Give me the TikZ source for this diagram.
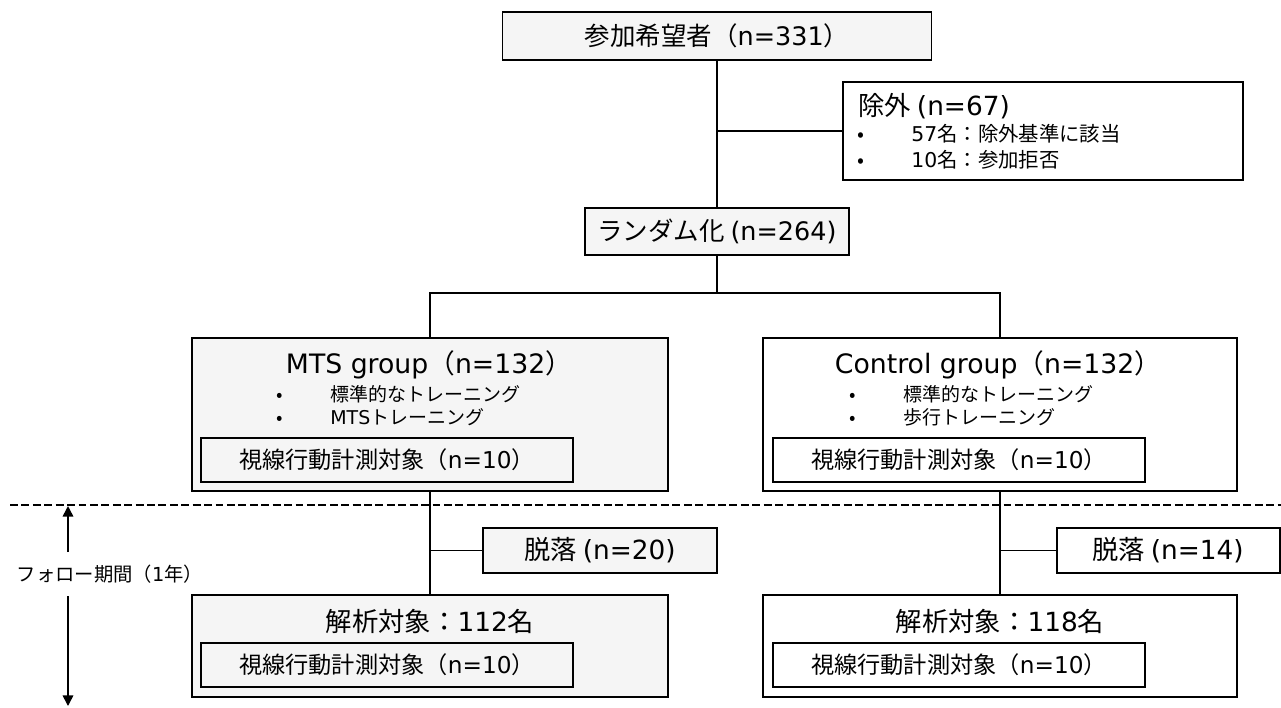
\documentclass[tikz,border=0pt]{standalone}
\usepackage{fontspec}
\setmainfont{Noto Sans CJK JP}
\newfontfamily\lat{DejaVu Sans}
\newcommand\lt[1]{{\lat #1}}
\usetikzlibrary{arrows.meta}
\begin{document}
\begin{tikzpicture}[x=0.02cm,y=-0.02cm,
  box/.style={draw=black, line width=1.1pt, inner sep=0pt, align=center},
  shaded/.style={fill=black!4},
  conn/.style={line width=0.9pt},
  txt/.style={inner sep=0pt},
  fbig/.style={font=\fontsize{14.5}{17}\selectfont},
  fhead/.style={font=\fontsize{15.2}{18}\selectfont},
  fdrop/.style={font=\fontsize{15}{18}\selectfont},
  fmid/.style={font=\fontsize{13.2}{16}\selectfont},
  fsmall/.style={font=\fontsize{10.8}{13}\selectfont},
  fex/.style={font=\fontsize{11.6}{14}\selectfont},
  tip/.style={-{Triangle[length=6pt,width=6pt]}, line width=0.9pt}
]
\useasboundingbox[fill=white] (0,0) rectangle (1281,707);

% top part
\node[box,shaded,fbig,minimum width=429*0.02cm,minimum height=48*0.02cm] (top) at (717,36) {参加希望者（\lt{n=331}）};
\node[box,minimum width=400*0.02cm,minimum height=98*0.02cm] (excl) at (1043,131) {};
\node[txt,fdrop,anchor=west] (exh) at (858,106) {除外 \lt{(n=67)}};
\node[txt,fex,anchor=west] (exb1) at (857,134) {\makebox[1.08cm][l]{•}\lt{57}名：除外基準に該当};
\node[txt,fex,anchor=west] (exb2) at (857,160) {\makebox[1.08cm][l]{•}\lt{10}名：参加拒否};
\node[box,shaded,fbig,minimum width=264*0.02cm,minimum height=47*0.02cm] (rand) at (717,231.5) {ランダム化 \lt{(n=264)}};

\draw[conn] (top.south) -- (rand.north);
\draw[conn] (top.south |- excl.west) -- (excl.west);

% groups
\node[box,shaded,minimum width=476*0.02cm,minimum height=153*0.02cm] (mts) at (430,414.5) {};
\node[txt,fhead] (mtsh) at (429,365) {\lt{MTS group}（\lt{n=132}）};
\node[txt,fsmall,anchor=west] (mtsb1) at (276,394) {\makebox[1.08cm][l]{•}標準的なトレーニング};
\node[txt,fsmall,anchor=west] (mtsb2) at (276,417) {\makebox[1.08cm][l]{•}\lt{MTS}トレーニング};
\node[box,fmid,minimum width=372*0.02cm,minimum height=44*0.02cm] (mtsin) at (387,460) {視線行動計測対象（\lt{n=10}）};

\node[box,minimum width=474*0.02cm,minimum height=153*0.02cm] (ctl) at (1000,414.5) {};
\node[txt,fhead] (ctlh) at (998,365) {\lt{Control group}（\lt{n=132}）};
\node[txt,fsmall,anchor=west] (ctlb1) at (849,394) {\makebox[1.08cm][l]{•}標準的なトレーニング};
\node[txt,fsmall,anchor=west] (ctlb2) at (849,417) {\makebox[1.08cm][l]{•}歩行トレーニング};
\node[box,fmid,minimum width=372*0.02cm,minimum height=44*0.02cm] (ctlin) at (959,460) {視線行動計測対象（\lt{n=10}）};

\coordinate (split) at (717,293);
\draw[conn] (rand.south) -- (split);
\draw[conn] (mts.north) -- (mts.north |- split) -- (ctl.north |- split) -- (ctl.north);

% follow-up divider
\coordinate (dl) at (10,505);
\coordinate (dr) at (1281,505);
\draw[line width=0.7pt, dash pattern=on 4.5pt off 2pt] (dl) -- (dr);

% dropouts
\node[box,shaded,fdrop,minimum width=234*0.02cm,minimum height=45*0.02cm] (mtsdrop) at (600,550.5) {脱落 \lt{(n=20)}};
\node[box,minimum width=223*0.02cm,minimum height=45*0.02cm] (ctldrop) at (1168.5,550.5) {};
\node[txt,fdrop] (ctldropt) at (1168,550.5) {脱落 \lt{(n=14)}};

% analysis
\node[box,shaded,minimum width=476*0.02cm,minimum height=102*0.02cm] (mtslow) at (430,646) {};
\node[txt,fdrop] (mtslowh) at (430,621) {解析対象：\lt{112}名};
\node[box,fmid,minimum width=372*0.02cm,minimum height=44*0.02cm] (mtslowin) at (387,665) {視線行動計測対象（\lt{n=10}）};

\node[box,minimum width=474*0.02cm,minimum height=102*0.02cm] (ctllow) at (1000,646) {};
\node[txt,fdrop] (ctllowh) at (1000,621) {解析対象：\lt{118}名};
\node[box,fmid,minimum width=372*0.02cm,minimum height=44*0.02cm] (ctllowin) at (959,665) {視線行動計測対象（\lt{n=10}）};

\draw[conn] (mts.south) -- (mtslow.north);
\draw[conn] (mts.south |- mtsdrop.west) -- (mtsdrop.west);
\draw[conn] (ctl.south) -- (ctllow.north);
\draw[conn] (ctl.south |- ctldrop.west) -- (ctldrop.west);

% follow-up arrow
\node[txt,font=\fontsize{11}{13}\selectfont] (follow) at (110,574) {フォロー期間（\lt{1}年）};
\coordinate (fa) at (68,506);
\coordinate (fa2) at (68,552);
\coordinate (fb) at (68,706);
\coordinate (fb2) at (68,596);
\draw[tip] (fa2) -- (fa);
\draw[tip] (fb2) -- (fb);
\end{tikzpicture}
\end{document}
